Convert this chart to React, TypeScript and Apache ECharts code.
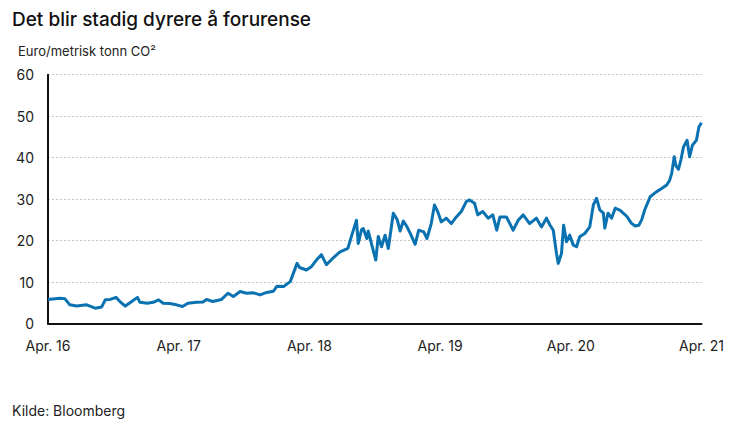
import React, { useEffect, useRef } from "react";
import * as echarts from "echarts";

const TITLE = "Det blir stadig dyrere å forurense";
const UNIT = "Euro/metrisk tonn CO²";
const SOURCE = "Kilde: Bloomberg";

const xTickLabels = ["Apr. 16", "Apr. 17", "Apr. 18", "Apr. 19", "Apr. 20", "Apr. 21"];
const yTicks = [0, 10, 20, 30, 40, 50, 60];

const dates = [
  "2016-04-01", "2016-05-04", "2016-05-18", "2016-06-01", "2016-06-20", "2016-07-18",
  "2016-08-11", "2016-08-29", "2016-09-08", "2016-09-22", "2016-10-08", "2016-10-19",
  "2016-11-03", "2016-11-21", "2016-12-07", "2016-12-14", "2017-01-03", "2017-01-20",
  "2017-02-04", "2017-02-17", "2017-03-07", "2017-03-26", "2017-04-12", "2017-04-27",
  "2017-05-21", "2017-06-08", "2017-06-18", "2017-07-05", "2017-07-30", "2017-08-17",
  "2017-09-01", "2017-09-20", "2017-10-08", "2017-10-27", "2017-11-15", "2017-12-03",
  "2017-12-22", "2018-01-01", "2018-01-19", "2018-02-07", "2018-02-26", "2018-03-05",
  "2018-03-24", "2018-04-07", "2018-04-21", "2018-05-05", "2018-05-19", "2018-06-07",
  "2018-06-25", "2018-07-18", "2018-07-28", "2018-08-11", "2018-08-16", "2018-08-25",
  "2018-08-30", "2018-09-09", "2018-09-13", "2018-09-23", "2018-10-04", "2018-10-11",
  "2018-10-20", "2018-10-30", "2018-11-08", "2018-11-22", "2018-12-03", "2018-12-11",
  "2018-12-20", "2018-12-29", "2019-01-08", "2019-01-22", "2019-02-01", "2019-02-15",
  "2019-02-24", "2019-03-08", "2019-03-17", "2019-03-26", "2019-04-05", "2019-04-19",
  "2019-05-03", "2019-05-17", "2019-05-31", "2019-06-14", "2019-06-23", "2019-07-07",
  "2019-07-16", "2019-07-30", "2019-08-14", "2019-08-27", "2019-09-07", "2019-09-16",
  "2019-10-04", "2019-10-23", "2019-11-06", "2019-11-20", "2019-12-08", "2019-12-27",
  "2020-01-10", "2020-01-24", "2020-02-03", "2020-02-12", "2020-02-21", "2020-02-26",
  "2020-03-06", "2020-03-12", "2020-03-20", "2020-03-29", "2020-04-08", "2020-04-17",
  "2020-04-26", "2020-05-10", "2020-05-24", "2020-06-03", "2020-06-12", "2020-06-21",
  "2020-07-01", "2020-07-05", "2020-07-14", "2020-07-24", "2020-08-03", "2020-08-17",
  "2020-09-05", "2020-09-17", "2020-09-28", "2020-10-08", "2020-10-16", "2020-10-25",
  "2020-11-09", "2020-11-27", "2020-12-12", "2020-12-25", "2021-01-02", "2021-01-08",
  "2021-01-15", "2021-01-20", "2021-01-27", "2021-02-03", "2021-02-10", "2021-02-20",
  "2021-02-27", "2021-03-07", "2021-03-18", "2021-03-25", "2021-04-01",
];

const prices = [
  5.8, 6.1, 6.0, 4.5, 4.2, 4.5,
  3.7, 4.0, 5.7, 5.8, 6.3, 5.3,
  4.2, 5.3, 6.3, 5.1, 4.9, 5.1,
  5.7, 4.9, 4.8, 4.5, 4.1, 4.9,
  5.1, 5.2, 5.8, 5.3, 5.8, 7.3,
  6.5, 7.7, 7.3, 7.4, 6.9, 7.5,
  7.8, 9.0, 8.9, 10.1, 14.5, 13.5,
  12.9, 13.7, 15.3, 16.6, 14.2, 15.8,
  17.2, 18.1, 21.0, 24.9, 19.3, 22.6,
  22.9, 20.5, 22.3, 18.9, 15.3, 21.0,
  18.5, 21.3, 18.1, 26.6, 25.0, 22.3,
  24.7, 23.5, 21.8, 19.1, 22.5, 22.1,
  20.5, 24.1, 28.6, 27.0, 24.5, 25.4,
  24.1, 25.7, 27.0, 29.4, 29.8, 29.0,
  26.2, 27.0, 25.4, 26.2, 22.5, 25.7,
  25.7, 22.5, 24.9, 26.2, 24.1, 25.4,
  23.3, 25.4, 23.7, 22.5, 16.9, 14.5,
  16.9, 23.7, 19.7, 21.3, 18.9, 18.5,
  20.9, 21.7, 23.3, 28.6, 30.2, 27.4,
  26.6, 23.0, 26.6, 25.4, 27.8, 27.3,
  25.8, 24.2, 23.5, 23.7, 25.0, 27.5,
  30.6, 31.8, 32.6, 33.4, 34.5, 36.2,
  40.2, 38.0, 37.2, 39.6, 42.6, 44.2,
  40.2, 43.0, 44.2, 47.4, 48.4,
];

const START = Date.UTC(2016, 3, 1);
const YEAR_MS = 365.25 * 24 * 3600 * 1000;

function toMonths(d: string): number {
  const [y, m, dd] = d.split("-").map(Number);
  return ((Date.UTC(y, m - 1, dd) - START) / YEAR_MS) * 12;
}

export default function App() {
  const ref = useRef<HTMLDivElement>(null);
  useEffect(() => {
    if (!ref.current) return;
    const chart = echarts.init(ref.current, null, { renderer: "svg" });
    const data = dates.map((d, i) => [toMonths(d), prices[i]]);
    const font = "Inter, 'Noto Sans', sans-serif";
    chart.setOption({
      animation: false,
      backgroundColor: "#ffffff",
      textStyle: { fontFamily: font },
      title: [
        {
          text: TITLE,
          left: 7,
          top: 5,
          textStyle: { fontSize: 19, fontWeight: 500, color: "#111", fontFamily: font },
        },
        {
          text: UNIT,
          left: 13,
          top: 39,
          textStyle: { fontSize: 13, fontWeight: 400, color: "#222", fontFamily: font },
        },
        {
          text: SOURCE,
          left: 7,
          top: 398,
          textStyle: { fontSize: 14, fontWeight: 400, color: "#222", fontFamily: font },
        },
      ],
      grid: { left: 48, right: 42.5, top: 74.7, bottom: 97.5, containLabel: false },
      xAxis: {
        type: "value",
        min: 0,
        max: 60,
        interval: 12,
        axisLine: { show: true, onZero: false, lineStyle: { color: "#111", width: 2 } },
        axisTick: { show: false },
        splitLine: { show: false },
        axisLabel: {
          margin: 15,
          fontSize: 14,
          color: "#222",
          fontFamily: font,
          formatter: (v: number) => xTickLabels[Math.round(v / 12)] ?? "",
        },
      },
      yAxis: {
        type: "value",
        min: yTicks[0],
        max: yTicks[yTicks.length - 1],
        interval: 10,
        axisLine: { show: true, lineStyle: { color: "#111", width: 2 } },
        axisTick: { show: false },
        splitLine: { show: true, lineStyle: { color: "#c4c4c4", type: [2, 2], width: 1 } },
        axisLabel: { margin: 14, fontSize: 14, color: "#222", fontFamily: font },
      },
      series: [
        {
          type: "line",
          data,
          showSymbol: false,
          symbol: "none",
          smooth: false,
          lineStyle: { color: "#0a72b0", width: 3, join: "round" },
        },
      ],
    });
    return () => chart.dispose();
  }, []);
  return (
    <div
      ref={ref}
      style={{ position: "fixed", left: 0, top: 0, width: 744, height: 421 }}
    />
  );
}
